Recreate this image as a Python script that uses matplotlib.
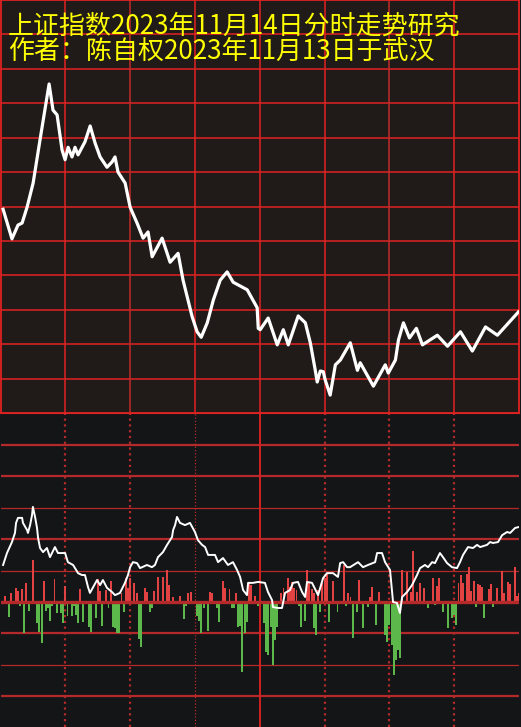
import matplotlib
matplotlib.use("Agg")
import matplotlib.pyplot as plt

TITLE_1 = "上证指数2023年11月14日分时走势研究"
TITLE_2 = "作者：陈自权2023年11月13日于武汉"

# intraday price line (minute from 9:30, index value)
price_min = [1.2, 5.3, 8.1, 10.0, 12.3, 15.1, 18.3, 22.5, 24.3, 26.2, 28.5, 29.9,
             31.3, 33.1, 34.5, 35.9, 39.1, 41.5, 43.8, 46.1, 49.3, 51.7, 53.0, 54.4,
             57.7, 60.0, 63.2, 66.0, 68.3, 70.2, 74.8, 78.5, 82.2, 84.5, 88.7, 91.0,
             92.9, 95.7, 98.5, 101.7, 104.9, 107.7, 114.2, 115.6, 118.8, 119.3, 120.2,
             123.9, 128.1, 130.9, 133.2, 137.8, 141.1, 143.4, 145.7, 146.6, 148.0,
             149.4, 150.3, 152.6, 155.0, 157.3, 161.9, 165.2, 166.5, 172.6, 178.1,
             179.5, 182.8, 184.2, 186.5, 189.3, 192.5, 195.3, 202.2, 206.9, 212.9,
             218.4, 224.5, 230.0, 239.8]
price_val = [3039.6, 3035.3, 3037.3, 3037.6, 3039.9, 3043.4, 3049.7, 3057.8, 3054.0,
             3053.3, 3048.2, 3046.8, 3048.6, 3047.2, 3048.6, 3047.5, 3049.4, 3051.7,
             3049.2, 3047.2, 3045.7, 3046.5, 3047.2, 3045.0, 3043.4, 3039.9, 3037.6,
             3035.4, 3036.3, 3032.7, 3035.4, 3031.9, 3033.2, 3029.3, 3024.0, 3021.8,
             3021.0, 3023.1, 3026.4, 3029.3, 3030.5, 3029.0, 3027.9, 3027.1, 3025.3,
             3022.3, 3022.1, 3023.8, 3019.9, 3022.1, 3019.9, 3024.1, 3023.1, 3020.2,
             3016.2, 3014.5, 3016.1, 3016.0, 3014.8, 3012.6, 3017.0, 3017.7, 3020.2,
             3016.2, 3017.3, 3013.9, 3017.0, 3015.8, 3017.7, 3020.6, 3023.1, 3020.9,
             3022.3, 3019.9, 3021.3, 3019.7, 3021.8, 3019.0, 3022.5, 3021.3, 3024.7]

# lower panel indicator line
ind_min = [1.2, 3.0, 5.3, 6.7, 7.2, 8.1, 10.0, 10.4, 12.3, 12.7, 13.7, 14.6, 15.0,
           16.0, 16.9, 17.4, 18.3, 19.7, 21.5, 22.9, 25.2, 26.6, 29.9, 31.2, 33.6,
           35.9, 37.7, 39.1, 40.5, 41.4, 44.7, 46.1, 47.4, 49.3, 51.6, 53.0, 55.3,
           57.6, 59.0, 60.0, 61.3, 63.2, 64.6, 67.8, 70.1, 71.5, 72.9, 75.2, 77.1,
           78.5, 79.4, 79.9, 80.8, 81.7, 83.1, 85.4, 87.7, 90.0, 91.4, 93.3, 94.7,
           96.1, 99.3, 100.7, 103.0, 105.3, 107.6, 109.5, 110.9, 112.3, 114.1, 114.6,
           116.9, 119.2, 122.4, 123.8, 125.7, 126.1, 128.4, 130.3, 131.7, 134.0,
           135.4, 137.7, 139.6, 141.0, 141.9, 144.2, 146.5, 147.0, 149.3, 151.1,
           153.9, 156.2, 157.2, 158.6, 160.4, 161.8, 165.5, 167.8, 170.1, 173.4,
           174.3, 176.6, 178.0, 180.3, 181.2, 181.7, 183.5, 184.9, 185.9, 188.2,
           190.5, 192.8, 194.2, 196.5, 197.9, 199.8, 201.1, 203.4, 204.8, 206.7,
           209.0, 211.3, 212.7, 214.1, 216.4, 218.7, 220.6, 222.0, 225.2, 226.6,
           228.0, 230.3, 232.2, 234.5, 235.9, 238.2, 240.0]
ind_val = [1.18, 1.56, 1.91, 2.20, 2.52, 2.68, 2.68, 2.52, 2.29, 2.20, 2.45, 2.77, 3.03,
           2.71, 2.36, 2.04, 1.72, 1.59, 1.72, 1.43, 1.75, 1.56, 1.56, 1.27, 1.18,
           0.92, 0.86, 0.86, 0.48, 0.29, 0.70, 0.54, 0.70, 0.45, 0.32, 0.22, 0.29,
           0.61, 0.86, 1.11, 1.27, 1.24, 1.08, 1.18, 1.11, 1.18, 1.43, 1.59, 1.82,
           1.97, 2.07, 2.29, 2.45, 2.71, 2.52, 2.45, 2.52, 2.23, 1.97, 1.82, 1.75,
           1.50, 1.50, 1.27, 1.40, 1.18, 1.27, 1.02, 0.80, 0.38, 0.22, 0.61,
           0.61, 0.64, 0.61, 0.32, 0.06, -0.16, -0.19, -0.19, 0.29, 0.38,
           0.61, 0.64, 0.32, 0.16, 0.64, 0.61, 0.29, 0.22, 0.76, 0.92,
           0.92, 0.80, 1.24, 1.27, 1.11, 1.11, 1.27, 1.11, 1.18, 1.27,
           1.56, 1.56, 1.27, 1.02, 0.38, 0.00, -0.03, -0.35, 0.16, 0.32,
           0.54, 0.86, 1.08, 1.18, 1.11, 1.27, 1.24, 1.56, 1.43, 1.24,
           1.11, 1.08, 1.27, 1.50, 1.75, 1.72, 1.82, 1.75, 1.82, 1.91,
           1.88, 1.91, 2.13, 2.23, 2.20, 2.36, 2.39]

# red (positive) bars
up_min = [0, 2, 5, 7, 8, 10, 12, 15, 20, 25, 30, 37, 45, 46, 49, 51, 56, 58, 59, 60,
          62, 63, 67, 68, 71, 73, 75, 77, 78, 80, 83, 87, 88, 97, 98, 103, 104, 106,
          109, 115, 116, 118, 130, 131, 133, 134, 135, 136, 137, 142, 143, 144, 145,
          147, 149, 150, 151, 154, 159, 161, 162, 166, 171, 172, 175, 186, 188, 190,
          191, 193, 194, 196, 200, 202, 203, 212, 213, 214, 216, 217, 218, 219, 221,
          222, 223, 226, 227, 230, 232, 233, 235, 236, 238, 239, 240]
up_val = [0.35, 0.19, 0.29, 0.45, 0.35, 0.41, 0.61, 1.34, 0.67, 0.73, 0.51, 0.41, 0.73,
          0.35, 0.38, 0.67, 0.29, 0.76, 0.45, 0.76, 0.61, 0.29, 0.45, 0.32, 0.35,
          0.80, 0.80, 1.02, 0.54, 0.16, 0.19, 0.29, 0.32, 0.32, 0.29, 0.67, 0.45,
          0.41, 0.29, 0.64, 0.54, 0.19, 0.29, 0.45, 0.76, 0.48, 0.64, 0.45, 0.38,
          1.02, 0.64, 0.41, 0.29, 0.38, 0.61, 0.76, 0.92, 0.67, 1.18, 0.29, 0.16,
          0.70, 0.16, 0.48, 0.32, 1.02, 0.96, 0.32, 1.62, 0.32, 0.61, 0.45, 0.76,
          0.51, 0.76, 0.61, 0.86, 0.61, 0.89, 1.11, 0.35, 0.67, 0.57, 0.54, 0.48,
          0.41, 0.57, 0.45, 0.99, 0.29, 0.64, 0.57, 1.11, 0.19, 0.29]

# green (negative) bars
dn_min = [4, 9, 11, 13, 17, 18, 19, 21, 22, 23, 24, 26, 28, 29, 31, 33, 34, 35, 36,
          38, 41, 42, 44, 47, 50, 52, 53, 54, 55, 57, 64, 65, 69, 70, 85, 86, 91, 92,
          93, 94, 96, 100, 101, 107, 108, 110, 111, 112, 113, 114, 119, 122, 123,
          124, 125, 126, 127, 128, 138, 139, 141, 145, 146, 148, 152, 156, 160, 163,
          165, 168, 170, 174, 178, 179, 180, 181, 182, 183, 184, 185, 198, 201, 205,
          207, 209, 210, 211, 220, 224, 228]
dn_val = [-0.48, -0.13, -0.99, -0.29, -0.67, -0.96, -1.31, -0.29, -0.19, -0.61, -0.13,
          -0.35, -0.35, -0.67, -0.45, -0.45, -0.13, -0.41, -0.67, -0.64, -0.80, -0.96,
          -0.51, -0.76, -0.19, -0.80, -0.83, -0.99, -0.99, -0.32, -1.18, -1.43, -0.32,
          -0.19, -0.54, -0.13, -0.45, -0.61, -0.99, -0.19, -0.92, -0.19, -0.64, -0.19,
          -0.19, -0.80, -0.76, -2.23, -0.99, -0.64, -0.13, -0.67, -1.59, -1.69, -0.80,
          -2.01, -1.21, -0.80, -0.13, -0.80, -0.61, -0.83, -1.05, -0.32, -0.64, -0.32,
          -0.13, -1.15, -0.32, -0.83, -0.16, -0.73, -1.05, -1.27, -0.73, -1.37, -2.32,
          -1.85, -1.53, -1.78, -0.19, -0.10, -0.32, -0.83, -0.51, -0.41, -0.73, -0.16,
          -0.51, -0.16]

RED = "#e02222"
DARK_RED = "#c02a2a"
LOW_RED = "#b42a2a"


def main():
    fig = plt.figure(figsize=(5.21, 7.27), dpi=100)
    fig.patch.set_facecolor("#141517")

    split = (727 - 413) / 727
    left = 0.5 / 521
    width = 518.5 / 521

    # upper panel: price
    ax = fig.add_axes([left, split, width, 1 - split])
    ax.set_facecolor("#201b19")
    ax.set_xlim(0, 240)
    ax.set_ylim(3010, 3070)
    for v in range(3015, 3070, 5):
        ax.axhline(v, color=RED, lw=1.1, zorder=1)
    for m in range(30, 240, 30):
        c = DARK_RED if m in (60, 180) else RED
        ax.axvline(m, color=c, lw=1.1, zorder=1)
    for s in ax.spines.values():
        s.set_color(RED)
        s.set_linewidth(1.3)
    ax.plot(price_min, price_val, color="white", lw=2.3, zorder=3,
            solid_joinstyle="round")
    ax.set_xticks([])
    ax.set_yticks([])

    # lower panel: indicator + bars
    bx = fig.add_axes([left, 0, width, split])
    bx.set_facecolor("#141517")
    bx.set_xlim(0, 240)
    bx.set_ylim(-3.98, 6.02)
    for v, lw in [(5, 1.6), (4, 1.6), (3, 0.9), (2, 1.6), (1, 0.9),
                  (-1, 1.6), (-2, 0.9), (-3, 1.6)]:
        bx.axhline(v, color=LOW_RED, lw=lw, zorder=1)
    for m in [30, 60, 90, 150, 180, 210]:
        lw = 0.9 if m == 90 else 1.6
        bx.axvline(m, color=LOW_RED, lw=lw, linestyle=(0, (1, 1.6)), zorder=1)
    bx.axvline(120, color=RED, lw=1.3, zorder=1)
    bx.bar(up_min, up_val, width=0.9, color="#e24242", zorder=2)
    bx.bar(dn_min, dn_val, width=0.9, color="#5cb84a", zorder=2)
    bx.axhline(0, color=LOW_RED, lw=2.4, zorder=3)
    bx.plot(ind_min, ind_val, color="white", lw=1.4, zorder=4)
    for name, s in bx.spines.items():
        s.set_visible(name == "top")
        s.set_color(RED)
    bx.set_xticks([])
    bx.set_yticks([])

    fam = ["Noto Sans CJK SC", "DejaVu Sans"]
    fig.text(8 / 521, 1 - 26 / 727, TITLE_1, color="#ffff00", fontsize=18.7,
             family=fam, ha="left", va="center")
    fig.text(8 / 521, 1 - 51 / 727, TITLE_2, color="#ffff00", fontsize=18.7,
             family=fam, ha="left", va="center")

    fig.savefig("out.png", dpi=100, facecolor=fig.get_facecolor())


if __name__ == '__main__':
    main()
